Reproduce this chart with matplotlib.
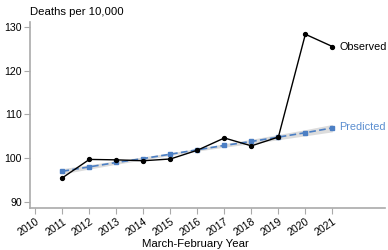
import numpy as np
import matplotlib.pyplot as plt

plt.rcParams['font.family'] = ['Liberation Sans', 'DejaVu Sans']

# DATOS
years = [2011, 2012, 2013, 2014, 2015, 2016, 2017, 2018, 2019, 2020, 2021]
observed = [95.5, 99.7, 99.6, 99.4, 99.8, 101.8, 104.6, 102.8, 104.8, 128.3, 125.5]
predicted = [97.0, 98.0, 99.0, 99.9, 100.9, 101.9, 102.9, 103.8, 104.8, 105.8, 106.9]
pred_lo = [96.4, 97.5, 98.6, 99.6, 100.6, 101.6, 102.5, 103.3, 104.2, 105.1, 106.0]
pred_hi = [97.6, 98.5, 99.4, 100.3, 101.2, 102.2, 103.3, 104.3, 105.4, 106.5, 107.7]
xticks = list(range(2010, 2022))
yticks = [90, 100, 110, 120, 130]

title = "Deaths per 10,000"
xlabel = "March-February Year"
blue = "#4c7fc4"
axis_grey = "#aaaaaa"

# GRÁFICO
fig = plt.figure(figsize=(3.88, 2.5), dpi=100)
ax = fig.add_axes([30/388, 1 - 208/250, 355/388, 186/250])

ax.fill_between(years, pred_lo, pred_hi, color="#dcdcdc", lw=0, zorder=1)
ax.plot(years, predicted, color=blue, lw=1.2, ls=(0, (4, 2)), marker="s", ms=3.5, zorder=3)
ax.plot(years, observed, color="black", lw=1.0, marker="o", ms=2.8, zorder=4)

ax.text(years[-1] + 0.25, observed[-1], "Observed", va="center", ha="left", fontsize=7.8, color="black")
ax.text(years[-1] + 0.25, predicted[-1] + 0.3, "Predicted", va="center", ha="left", fontsize=7.8, color="#5b8ed0")

ax.set_xlim(2009.8, 2022.95)
ax.set_ylim(88.6, 131.1)
ax.set_xticks(xticks)
ax.set_xticklabels([str(x) for x in xticks], rotation=34, ha="right", rotation_mode="anchor")
ax.set_yticks(yticks)

for s in ["top", "right"]:
    ax.spines[s].set_visible(False)
for s in ["left", "bottom"]:
    ax.spines[s].set_color(axis_grey)
    ax.spines[s].set_linewidth(1.2)
ax.tick_params(colors=axis_grey, labelcolor="black", labelsize=7.6, length=4, width=0.8, pad=2)

fig.text(30/388, 1 - 12/250, title, ha="left", va="center", fontsize=8.2)
fig.text(195/388, 1 - 244/250, xlabel, ha="center", va="center", fontsize=8.2)

plt.savefig("out.png", dpi=100)
